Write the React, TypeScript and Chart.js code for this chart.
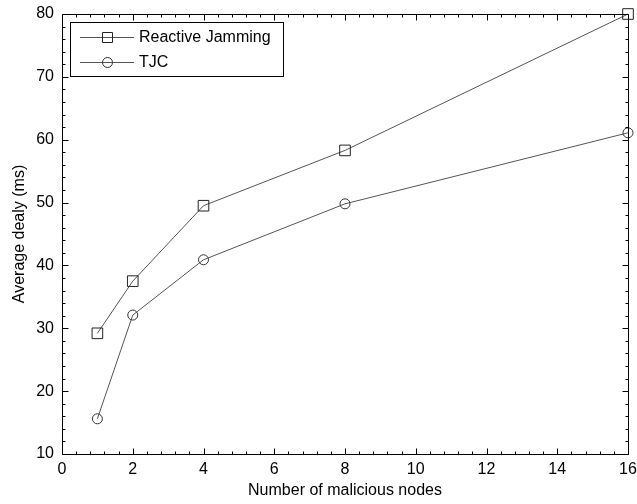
import React, { useEffect, useRef } from "react";
import { Chart, registerables } from "chart.js";

Chart.register(...registerables);

const nodes = [1, 2, 4, 8, 16];
const reactiveJamming = [29.2, 37.5, 49.5, 58.3, 80];
const tjc = [15.6, 32.1, 40.9, 49.8, 61.1];
const seriesNames = ["Reactive Jamming", "TJC"];
const xLabel = "Number of malicious nodes";
const yLabel = "Average dealy (ms)";

const FONT = "Arial, 'Liberation Sans', Helvetica, sans-serif";

const boxTicksPlugin = {
  id: "boxTicks",
  afterDraw(chart: any) {
    const { ctx, chartArea } = chart;
    const { left, right, top, bottom } = chartArea;
    const xs = chart.scales.x;
    const ys = chart.scales.y;
    ctx.save();
    ctx.strokeStyle = "#000";
    ctx.lineWidth = 1;
    const L = Math.round(left) + 0.5;
    const R = Math.round(right) + 0.5;
    const T = Math.round(top) + 0.5;
    const B = Math.round(bottom) + 0.5;
    ctx.beginPath();
    ctx.rect(L, T, R - L, B - T);
    ctx.stroke();
    ctx.beginPath();
    for (let i = 0; i <= 40; i++) {
      const v = i * 0.4;
      const px = Math.round(xs.getPixelForValue(v)) + 0.5;
      const len = i % 5 === 0 ? 6 : 3;
      ctx.moveTo(px, B);
      ctx.lineTo(px, B - len);
      ctx.moveTo(px, T);
      ctx.lineTo(px, T + len);
    }
    for (let i = 0; i <= 35; i++) {
      const v = 10 + i * 2;
      const py = Math.round(ys.getPixelForValue(v)) + 0.5;
      const len = i % 5 === 0 ? 6 : 3;
      ctx.moveTo(L, py);
      ctx.lineTo(L + len, py);
      ctx.moveTo(R, py);
      ctx.lineTo(R - len, py);
    }
    ctx.stroke();

    const lx = 70.5, ly = 22.5, lw = 213, lh = 54;
    ctx.fillStyle = "#fff";
    ctx.fillRect(lx, ly, lw, lh);
    ctx.strokeStyle = "#000";
    ctx.strokeRect(lx, ly, lw, lh);
    const rows = [37, 62];
    chart.data.datasets.forEach((ds: any, i: number) => {
      const y = rows[i] + 0.5;
      ctx.strokeStyle = ds.borderColor;
      ctx.beginPath();
      ctx.moveTo(80, y);
      ctx.lineTo(134, y);
      ctx.stroke();
      ctx.strokeStyle = ds.pointBorderColor;
      ctx.beginPath();
      if (ds.pointStyle === "rect") {
        ctx.rect(102.5, y - 5, 10, 10);
      } else {
        ctx.arc(107.5, y, 5, 0, Math.PI * 2);
      }
      ctx.stroke();
      ctx.fillStyle = "#000";
      ctx.font = `16px ${FONT}`;
      ctx.textBaseline = "middle";
      ctx.textAlign = "left";
      ctx.fillText(ds.label, 139, y);
    });
    ctx.restore();
  },
};

export default function App() {
  const ref = useRef<HTMLCanvasElement>(null);
  useEffect(() => {
    const canvas = ref.current!;
    const chart = new Chart(canvas, {
      type: "line",
      data: {
        datasets: [
          {
            label: seriesNames[0],
            data: nodes.map((x, i) => ({ x, y: reactiveJamming[i] })),
            borderColor: "#555",
            borderWidth: 1,
            pointStyle: "rect",
            pointRadius: 7.5,
            pointBorderColor: "#222",
            pointBackgroundColor: "rgba(0,0,0,0)",
            pointBorderWidth: 1,
            tension: 0,
            clip: false,
          },
          {
            label: seriesNames[1],
            data: nodes.map((x, i) => ({ x, y: tjc[i] })),
            borderColor: "#555",
            borderWidth: 1,
            pointStyle: "circle",
            pointRadius: 5,
            pointBorderColor: "#333",
            pointBackgroundColor: "rgba(0,0,0,0)",
            pointBorderWidth: 1,
            tension: 0,
            clip: false,
          },
        ],
      },
      options: {
        animation: false,
        responsive: false,
        devicePixelRatio: 1,
        layout: { padding: { top: 14, right: 9, left: 0, bottom: 0 } },
        plugins: {
          legend: { display: false },
          tooltip: { enabled: false },
        },
        scales: {
          x: {
            type: "linear",
            min: 0,
            max: 16,
            grid: { display: false, drawTicks: false },
            border: { display: false },
            ticks: {
              stepSize: 2,
              padding: 6,
              color: "#000",
              font: { family: FONT, size: 16 },
              maxRotation: 0,
            },
            title: {
              display: true,
              text: xLabel,
              color: "#000",
              font: { family: FONT, size: 16 },
              padding: { top: 0, bottom: 4 },
            },
            afterFit(scale: any) {
              scale.height = 50;
              scale.paddingLeft = 0;
              scale.paddingRight = 0;
              scale.paddingTop = 0;
              scale.paddingBottom = 0;
            },
          },
          y: {
            type: "linear",
            min: 10,
            max: 80,
            grid: { display: false, drawTicks: false },
            border: { display: false },
            ticks: {
              stepSize: 10,
              padding: 8,
              color: "#000",
              font: { family: FONT, size: 16 },
            },
            title: {
              display: true,
              text: yLabel,
              color: "#000",
              font: { family: FONT, size: 16 },
              padding: { top: 10, bottom: 0 },
            },
            afterFit(scale: any) {
              scale.width = 62;
              scale.paddingLeft = 0;
              scale.paddingRight = 0;
              scale.paddingTop = 0;
              scale.paddingBottom = 0;
            },
          },
        },
      },
      plugins: [boxTicksPlugin],
    });
    return () => chart.destroy();
  }, []);
  return (
    <div style={{ position: "fixed", left: 0, top: 0, width: 637, height: 504, background: "#fff" }}>
      <canvas ref={ref} width={637} height={504} style={{ display: "block" }} />
    </div>
  );
}
